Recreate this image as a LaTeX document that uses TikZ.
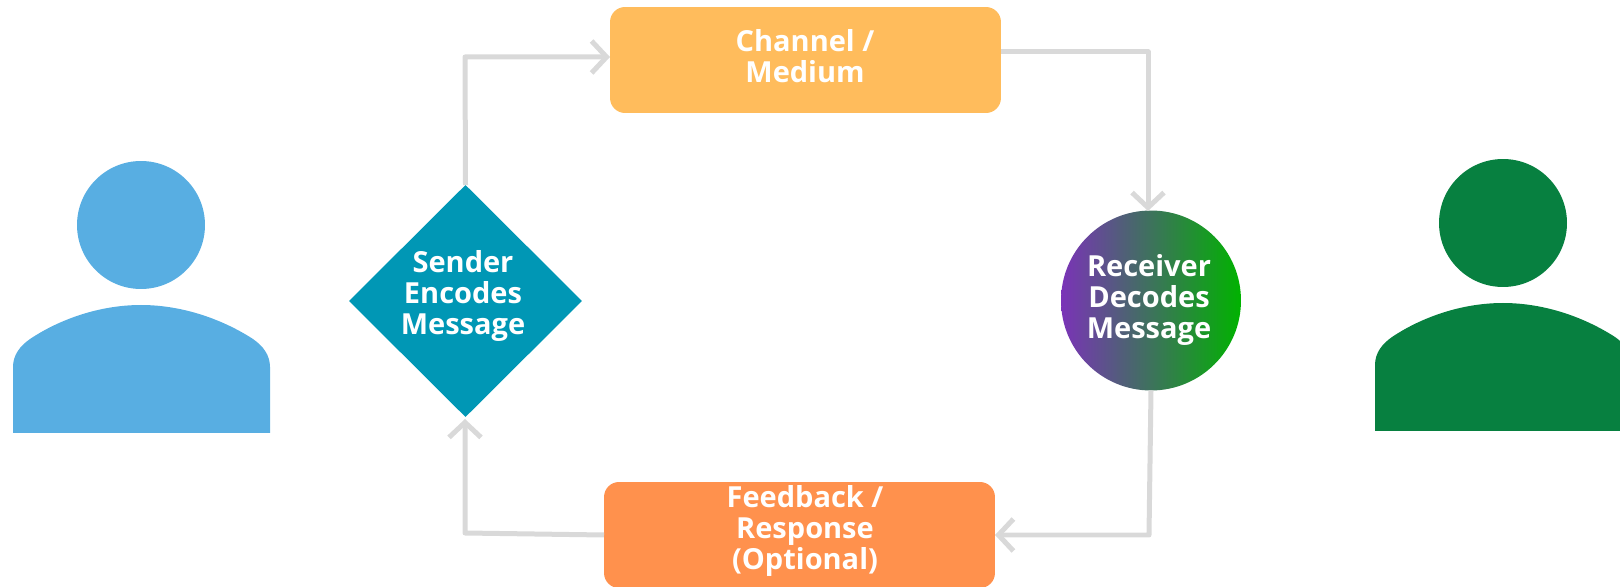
\documentclass[tikz,border=0pt]{standalone}
\usepackage{fontspec}
\setmainfont{Open Sans}
\usepackage{tikz}
\usetikzlibrary{arrows.meta,shapes.geometric}
\definecolor{skyblue}{HTML}{58AEE2}
\definecolor{darkgreen}{HTML}{078040}
\definecolor{tealblue}{HTML}{0097B5}
\definecolor{softamber}{HTML}{FFBC5C}
\definecolor{softorange}{HTML}{FF914D}
\definecolor{linegray}{HTML}{D9D9D9}
\tikzset{
	flowline/.style={draw=linegray,line width=.1cm,line join=round,-{Straight Barb[length=3mm,width=6.4mm,line width=.1cm]}},
	roundbox/.style={rectangle,rounded corners=.3cm,minimum width=7.82cm,minimum height=2.12cm,inner sep=0pt,outer sep=0pt},
	lbl/.style={text=white,align=center,inner sep=0pt,font=\fontsize{16.5}{17.6}\selectfont\bfseries}
}
\newcommand{\flow}[3]{\draw[flowline] (#1) -- (#2) -- (#3);}
\newcommand{\person}[4]{
	\begin{scope}[shift={(#1,#2)}]
		\node[circle,fill=#3,minimum size=2.56cm,inner sep=0pt](#4) at (141,225) {};
		\fill[#3] (13,433) -- (13,367) .. controls (13,355) and (20,346) .. (30,339)
			.. controls (60,319) and (100,305) .. (141,305)
			.. controls (182,305) and (222,319) .. (253,339)
			.. controls (263,346) and (270,355) .. (270,367) -- (270,433) -- cycle;
	\end{scope}
}

\begin{document}
\begin{tikzpicture}[x=.02cm,y=-.02cm]
	\useasboundingbox (0,0) rectangle (1620,587);
	\clip (0,0) rectangle (1620,587);

	\person{0}{0}{skyblue}{senderhead}
	\person{1362}{-2}{darkgreen}{receiverhead}

	\node[diamond,aspect=1,fill=tealblue,minimum width=4.66cm,minimum height=4.64cm,inner sep=0pt,outer sep=0pt](sender) at (465.5,301) {};
	\node[circle,left color=violet!70!blue!80,right color=green!70!black,minimum size=3.6cm,inner sep=0pt,outer sep=0pt](receiver) at (1151,300.5) {};
	\node[roundbox,fill=softamber](channel) at (805.5,60) {};
	\node[roundbox,fill=softorange,minimum height=2.12cm](feedback) at (799.5,535) {};

	\node[lbl](sendertxt) at (463,296) {Sender\\Encodes\\Message};
	\node[lbl](receivertxt) at (1149,300) {Receiver\\Decodes\\Message};
	\node[lbl](channeltxt) at (805,56) {Channel /\\Medium};
	\node[lbl](feedbacktxt) at (805,531) {Feedback /\\Response\\(Optional)};

	\coordinate(topleft) at (465,57);
	\coordinate(channelin) at (610,57);
	\coordinate(channelout) at (1001,52);
	\coordinate(topright) at (1148,52);
	\coordinate(receiverin) at (1148,211);
	\coordinate(bottomright) at (1149,535);
	\coordinate(feedbackin) at (995,535);
	\coordinate(feedbackout) at (604,535);
	\coordinate(bottomleft) at (465,533);
	\coordinate(senderin) at (465,419);

	\flow{sender.north}{topleft}{channelin}
	\flow{channelout}{topright}{receiverin}
	\flow{receiver.south}{bottomright}{feedbackin}
	\flow{feedbackout}{bottomleft}{senderin}
\end{tikzpicture}
\end{document}
